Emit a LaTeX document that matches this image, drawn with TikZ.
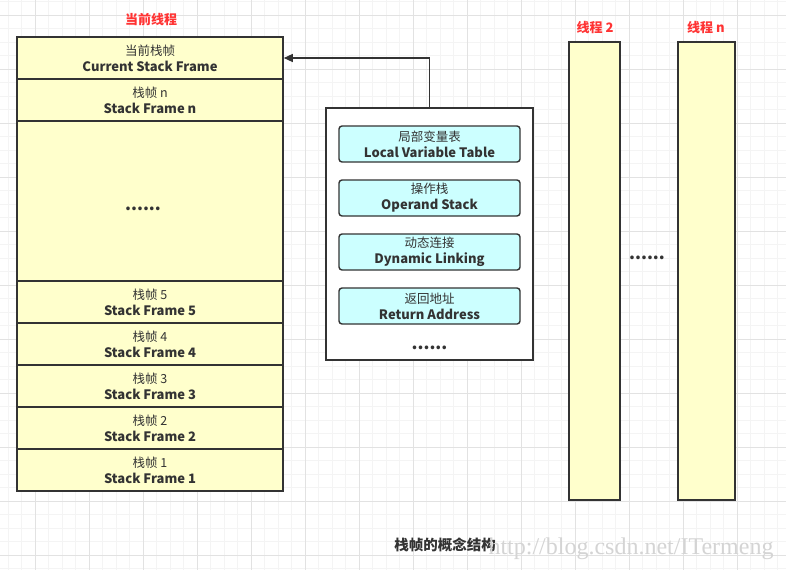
\documentclass[tikz,border=0pt]{standalone}
\usepackage{fontspec}
\setmainfont{Noto Sans CJK SC}
\newfontfamily\wmfont{Liberation Serif}
\usetikzlibrary{arrows.meta}
\definecolor{frameyellow}{HTML}{FFFFCC}
\definecolor{boxcyan}{HTML}{CCFFFF}
\definecolor{edgegray}{HTML}{333333}
\definecolor{redtxt}{HTML}{FF3333}
\definecolor{gridminor}{HTML}{F4F4F4}
\definecolor{gridmajor}{HTML}{E2E2E2}
\definecolor{wmgray}{HTML}{D4D4D4}
\begin{document}
\begin{tikzpicture}[x=1pt,y=-1pt,
  txt/.style={text=edgegray, font=\fontsize{12.5}{16}\selectfont, align=center, inner sep=0pt},
  frame/.style={txt, draw=edgegray, line width=1.6pt, fill=frameyellow, minimum width=266pt, minimum height=42pt},
  ctxbox/.style={draw=edgegray, line width=1.6pt, fill=white, minimum width=207pt, minimum height=252pt, inner sep=0pt},
  slot/.style={txt, draw=edgegray, line width=1.4pt, fill=boxcyan, rounded corners=3pt, minimum width=181pt, minimum height=36pt},
  thread/.style={draw=edgegray, line width=1.6pt, fill=frameyellow, minimum height=458pt, inner sep=0pt},
  redlabel/.style={text=redtxt, font=\fontsize{13}{14}\selectfont\bfseries, inner sep=0pt},
  dotlabel/.style={text=edgegray, font=\fontsize{17}{18}\selectfont\bfseries, inner sep=0pt},
  link/.style={draw=edgegray, line width=1.3pt, -{Triangle[length=9pt,width=8pt]}}
]
\newcommand{\en}[1]{{\fontsize{13}{16}\selectfont\bfseries #1}}
\useasboundingbox (0,0) rectangle (786,570);
\fill[white] (0,0) rectangle (786,570);
% grid
\foreach \i in {0,...,58} {
  \draw[gridminor, line width=0.8pt] ({8+13.5*\i},0) -- ({8+13.5*\i},570);
}
\foreach \i in {0,...,42} {
  \draw[gridminor, line width=0.8pt] (0,{1.5+13.5*\i}) -- (786,{1.5+13.5*\i});
}
\foreach \i in {0,...,14} {
  \draw[gridmajor, line width=0.9pt] ({35+54*\i},0) -- ({35+54*\i},570);
}
\foreach \i in {0,...,10} {
  \draw[gridmajor, line width=0.9pt] (0,{15+54*\i}) -- (786,{15+54*\i});
}

% current thread stack
\node[redlabel] (title1) at (151,20) {当前线程};
\node[frame] (cur) at (150,58) {当前栈帧\\\en{Current Stack Frame}};
\node[frame] (sfn) at (150,100) {栈帧 n\\\en{Stack Frame n}};
\node[frame, minimum height=160pt] (sfdots) at (150,201) {};
\node[dotlabel] (sfdotstxt) at (143,209) {......};
\node[frame] (sf5) at (150,302) {栈帧 5\\\en{Stack Frame 5}};
\node[frame] (sf4) at (150,344) {栈帧 4\\\en{Stack Frame 4}};
\node[frame] (sf3) at (150,386) {栈帧 3\\\en{Stack Frame 3}};
\node[frame] (sf2) at (150,428) {栈帧 2\\\en{Stack Frame 2}};
\node[frame] (sf1) at (150,470) {栈帧 1\\\en{Stack Frame 1}};

% frame contents
\node[ctxbox] (ctx) at (429.5,234) {};
\node[slot] (lvt) at (429.5,144) {局部变量表\\\en{Local Variable Table}};
\node[slot] (ops) at (429.5,198) {操作栈\\\en{Operand Stack}};
\node[slot] (dyn) at (429.5,252) {动态连接\\\en{Dynamic Linking}};
\node[slot] (ret) at (429.5,306) {返回地址\\\en{Return Address}};
\node[dotlabel] (ctxdots) at (429.5,348) {......};
\draw[link] (ctx.north) |- (cur.east);

% other threads
\node[redlabel] (title2) at (595,28) {线程 2};
\node[thread, minimum width=51pt] (t2) at (594.5,271) {};
\node[redlabel] (title3) at (706,28) {线程 n};
\node[thread, minimum width=57pt] (tn) at (706.5,271) {};
\node[dotlabel] (tdots) at (647,258) {......};

% caption and watermark
\node[text=edgegray, font=\fontsize{14.5}{16}\selectfont\bfseries, inner sep=0pt] (cap) at (445,545) {栈帧的概念结构};
\node[text=wmgray, font=\wmfont\fontsize{24}{26}\selectfont, inner sep=0pt] (wm) at (631,549) {http://blog.csdn.net/ITermeng};
\end{tikzpicture}
\end{document}
